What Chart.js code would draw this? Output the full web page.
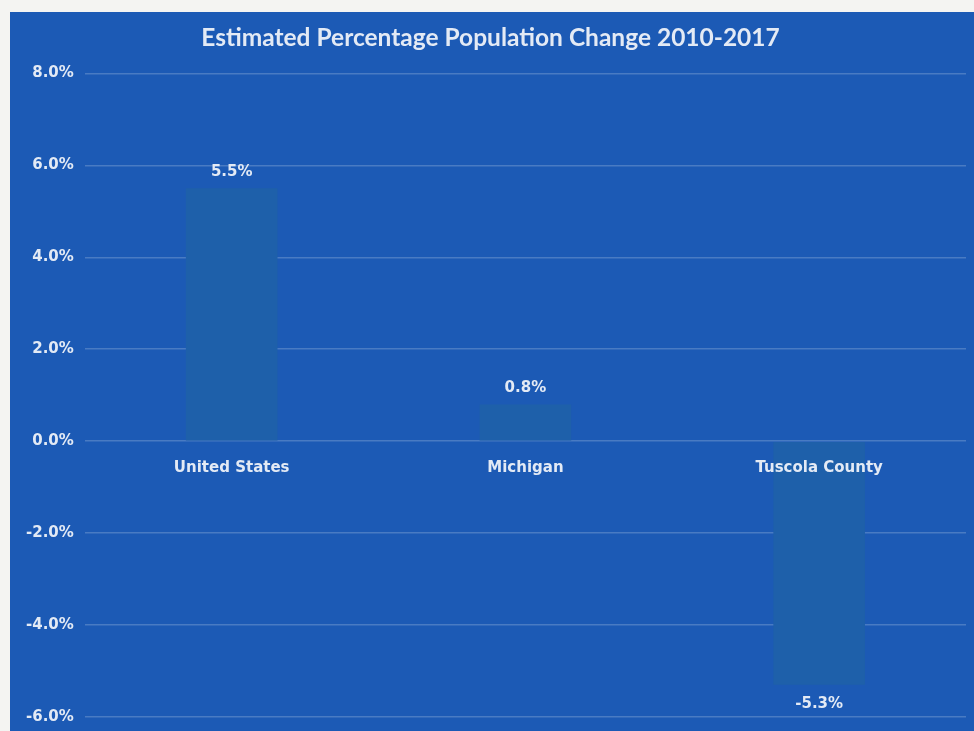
<!DOCTYPE html>
<html>
<head>
<meta charset="utf-8">
<script src="https://cdn.jsdelivr.net/npm/chart.js@4.4.0/dist/chart.umd.min.js"></script>
<style>
  html, body { margin: 0; padding: 0; background: #f4f4f2; overflow: hidden; }
  #wrap {
    position: absolute; left: 10px; top: 12px;
    width: 964px; height: 719px;
    background: #1c5ab5;
    overflow: hidden;
  }
</style>
</head>
<body>
<div id="wrap"><canvas id="chart" width="964" height="725"></canvas></div>
<script>
// Chart data
const categories = ['United States', 'Michigan', 'Tuscola County'];
const changeValues = [5.5, 0.8, -5.3];
const yTicks = [-6, -4, -2, 0, 2, 4, 6, 8];

const textColor = '#e3eaf5';
const labelFont = '"DejaVu Sans", Verdana, sans-serif';

// Draws the value label above (or below, for negatives) each bar
const valueLabels = {
  id: 'valueLabels',
  afterDraw(chart) {
    const ctx = chart.ctx;
    const meta = chart.getDatasetMeta(0);
    ctx.save();
    ctx.font = 'bold 15px ' + labelFont;
    ctx.fillStyle = textColor;
    ctx.textAlign = 'center';
    ctx.textBaseline = 'middle';
    meta.data.forEach((bar, i) => {
      const v = changeValues[i];
      const y = v >= 0 ? bar.y - 16 : bar.y + 19;
      ctx.fillText(v.toFixed(1) + '%', bar.x, y);
    });
    ctx.restore();
  }
};

const ctx = document.getElementById('chart').getContext('2d');
new Chart(ctx, {
  type: 'bar',
  data: {
    labels: categories,
    datasets: [{
      data: changeValues,
      backgroundColor: '#1e60aa',
      borderWidth: 0,
      categoryPercentage: 0.8,
      barPercentage: 0.39
    }]
  },
  options: {
    responsive: false,
    animation: false,
    layout: { padding: { left: 5, right: 8, bottom: 0 } },
    plugins: {
      legend: { display: false },
      tooltip: { enabled: false },
      title: {
        display: true,
        text: 'Estimated Percentage Population Change 2010-2017',
        color: textColor,
        font: { family: 'Lato, "Open Sans", sans-serif', size: 24.5, weight: 'bold' },
        padding: { top: 11, bottom: 21 }
      }
    },
    scales: {
      x: {
        position: { y: 0 },
        grid: { display: false },
        border: { display: false },
        ticks: {
          z: 1,
          color: textColor,
          padding: 10,
          font: { family: labelFont, size: 15, weight: 'bold' }
        }
      },
      y: {
        min: -6,
        max: 8,
        afterBuildTicks(axis) {
          axis.ticks = yTicks.map(v => ({ value: v }));
        },
        grid: { color: 'rgba(255, 255, 255, 0.2)', lineWidth: 1.5, drawTicks: false },
        border: { display: false },
        ticks: {
          color: textColor,
          padding: 11,
          font: { family: labelFont, size: 15, weight: 'bold' },
          callback: v => v.toFixed(1) + '%'
        }
      }
    }
  },
  plugins: [valueLabels]
});
</script>
</body>
</html>
